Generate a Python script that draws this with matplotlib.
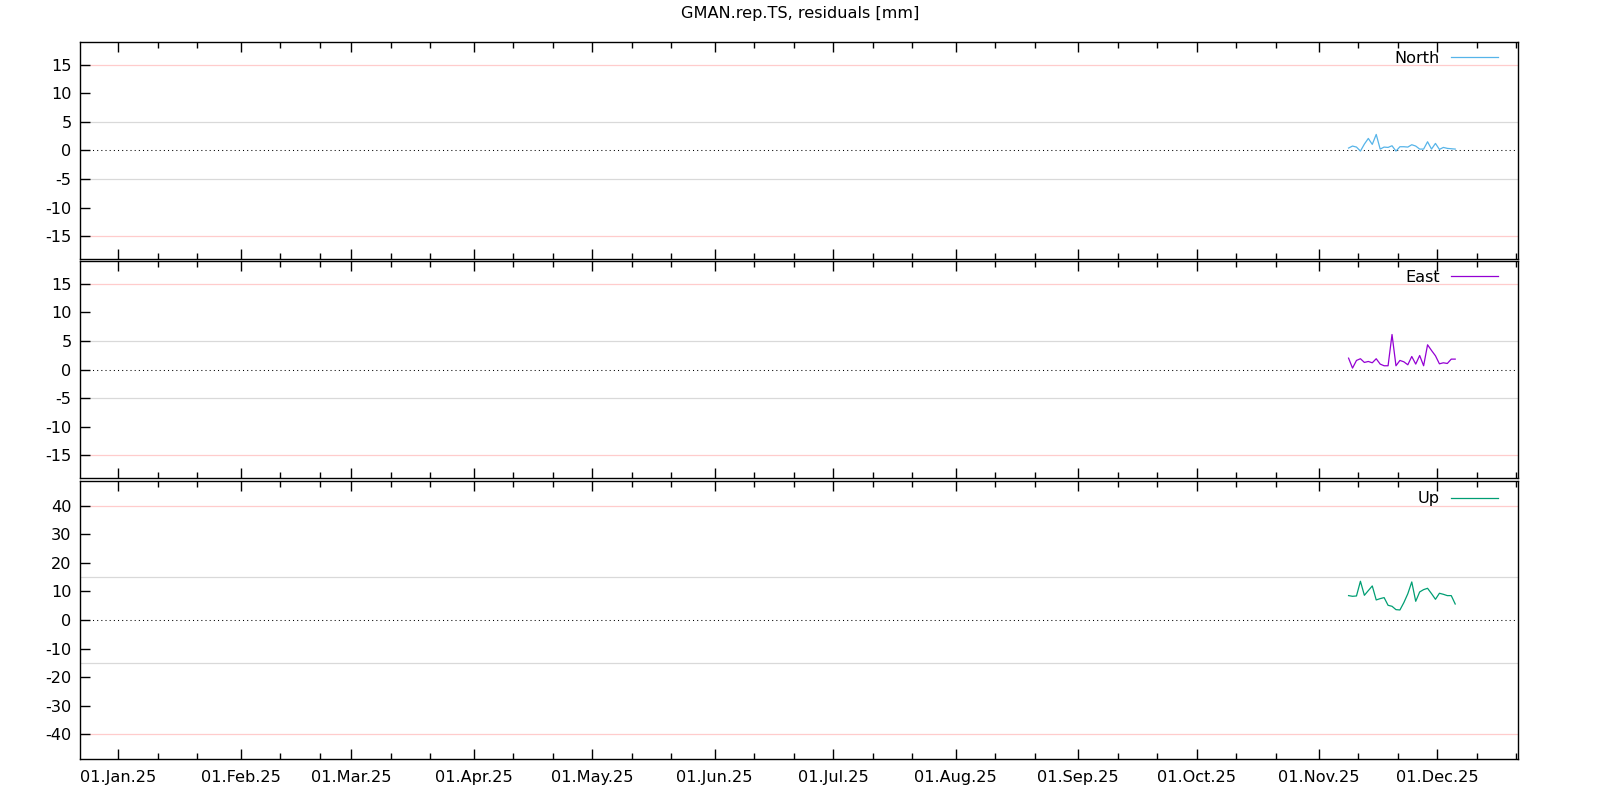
import datetime as dt
import matplotlib
matplotlib.use('Agg')
import matplotlib.pyplot as plt
import matplotlib.dates as mdates

# daily residuals, epochs at noon from 08.Nov.25 to 05.Dec.25
start = dt.datetime(2025, 11, 8, 12)
days = [start + dt.timedelta(days=i) for i in range(28)]

north = [0.41, 0.76, 0.58, -0.12, 1.10, 2.09, 1.05, 2.79, 0.23, 0.58,
         0.52, 0.81, -0.12, 0.64, 0.64, 0.58, 0.99, 0.76, 0.23, 0.23,
         1.51, 0.23, 1.22, 0.17, 0.52, 0.35, 0.29, 0.23]
east = [2.00, 0.26, 1.60, 1.90, 1.25, 1.42, 1.19, 1.90, 0.96, 0.67,
        0.67, 6.13, 0.67, 1.60, 1.36, 0.84, 2.29, 0.96, 2.46, 0.67,
        4.33, 3.34, 2.41, 1.01, 1.19, 1.07, 1.83, 1.83]
up = [8.54, 8.30, 8.42, 13.57, 8.65, 10.30, 11.93, 7.02, 7.49, 7.84,
      5.15, 4.80, 3.63, 3.51, 6.10, 9.20, 13.33, 6.55, 9.82, 10.64,
      11.10, 9.24, 7.25, 9.36, 9.00, 8.54, 8.54, 5.60]

names = ['North', 'East', 'Up']
series = [north, east, up]
colors = ['#56b4e9', '#9400d3', '#009e73']
ylims = [19, 19, 48.75]
yticks = [[-15, -10, -5, 0, 5, 10, 15],
          [-15, -10, -5, 0, 5, 10, 15],
          [-40, -30, -20, -10, 0, 10, 20, 30, 40]]
grey_lines = [5, 5, 15]
pink_lines = [15, 15, 40]

# panel boxes in figure fraction: (bottom, height)
boxes = [(0.676, 0.272), (0.402, 0.272), (0.051, 0.348)]

plt.rcParams['font.family'] = ['DejaVu Sans']
plt.rcParams['axes.unicode_minus'] = False
fs = 11.6

fig = plt.figure(figsize=(16, 8), dpi=100)
fig.text(0.5, 0.983, 'GMAN.rep.TS, residuals [mm]', ha='center', va='center',
         fontsize=fs)

xmin = dt.datetime(2024, 12, 22, 7)
xmax = dt.datetime(2025, 12, 21, 12)

for i in range(3):
    b, h = boxes[i]
    ax = fig.add_axes([0.05, b, 0.899, h])
    ax.axhline(grey_lines[i], color='#d9d9d9', lw=0.9, zorder=1)
    ax.axhline(-grey_lines[i], color='#d9d9d9', lw=0.9, zorder=1)
    ax.axhline(pink_lines[i], color='#ffcccc', lw=0.9, zorder=1)
    ax.axhline(-pink_lines[i], color='#ffcccc', lw=0.9, zorder=1)
    ax.axhline(0, color='black', lw=0.75, ls=(0, (1, 3)), zorder=1)
    ax.plot(days, series[i], color=colors[i], lw=0.9, label=names[i], zorder=3)

    ax.set_xlim(xmin, xmax)
    ax.set_ylim(-ylims[i], ylims[i])
    ax.set_yticks(yticks[i])
    ax.xaxis.set_major_locator(mdates.MonthLocator())
    ax.xaxis.set_minor_locator(mdates.DayLocator(bymonthday=[11, 21]))
    ax.xaxis.set_major_formatter(mdates.DateFormatter('%d.%b.%y'))
    ax.tick_params(axis='x', which='both', direction='in', top=True,
                   bottom=True, labelsize=fs, pad=8, width=1)
    ax.tick_params(axis='x', which='major', length=7)
    ax.tick_params(axis='x', which='minor', length=4)
    ax.tick_params(axis='y', direction='in', left=True, right=False,
                   length=7, width=1, labelsize=fs, pad=6)
    if i < 2:
        ax.tick_params(axis='x', which='both', labelbottom=False)
    for s in ax.spines.values():
        s.set_linewidth(1.0)

    # legend placed inside top right like the gnuplot key
    ax.legend(loc='upper right', frameon=False, markerfirst=False,
              handlelength=2.9, handletextpad=0.7, borderaxespad=0.16,
              bbox_to_anchor=(0.992, 1.0 if i < 2 else 0.995), fontsize=fs)

fig.savefig('out.png', dpi=100)
